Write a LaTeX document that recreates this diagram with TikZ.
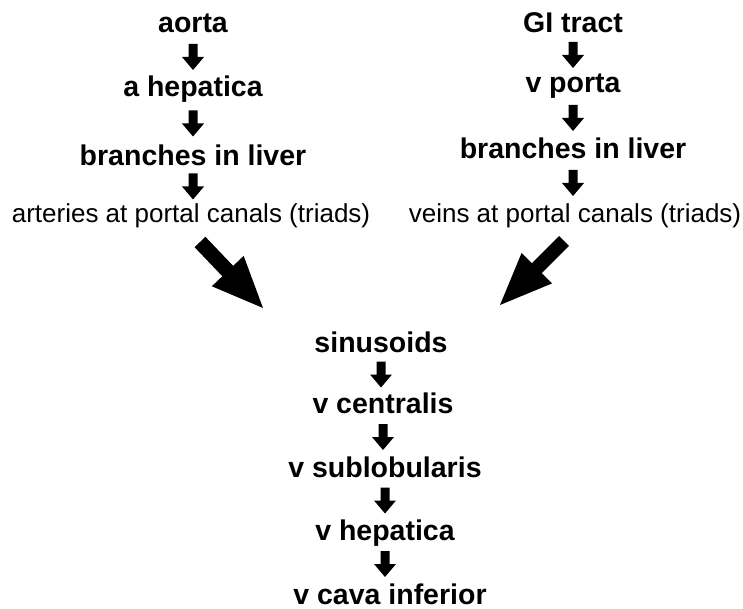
\documentclass[tikz,border=0pt]{standalone}
\usepackage{fontspec}
\setmainfont{Liberation Sans}
\usetikzlibrary{calc}
\tikzset{
  lbl/.style={anchor=base, inner sep=0pt, font=\bfseries\fontsize{28.5}{30}\selectfont},
  sml/.style={anchor=base, inner sep=0pt, font=\fontsize{26}{28}\selectfont}
}
% small downward block arrow between two nodes (by baselines), fixed length 26
\newcommand\downarr[2]{\fill let \p1=(#1.base), \p2=(#2.base), \n1={(\y1+\y2)/2+8} in
  (\x1-4.5pt,\n1+13pt) -- (\x1+4.5pt,\n1+13pt) -- (\x1+4.5pt,\n1) --
  (\x1+11pt,\n1) -- (\x1,\n1-13pt) -- (\x1-11pt,\n1) --
  (\x1-4.5pt,\n1) -- cycle;}
% fat arrow from #1 to #2: half shaft #3, half head #4, head length #5
\newcommand\fatarr[5]{\fill let \p1=($(#2)-(#1)$), \n1={atan2(\y1,\x1)}, \n2={veclen(\x1,\y1)} in
  [shift={(#1)}, rotate=\n1]
  (0pt,-#3) -- (\n2-#5,-#3) -- (\n2-#5,-#4) -- (\n2,0pt) --
  (\n2-#5,#4) -- (\n2-#5,#3) -- (0pt,#3) -- cycle;}
\begin{document}
\begin{tikzpicture}[x=1pt,y=1pt]
\useasboundingbox (0,0) rectangle (743,-609);
% left column
\node[lbl] (aorta) at (193,-33) {aorta};
\node[lbl] (ahep)  at (193,-97) {a hepatica};
\node[lbl] (bl)    at (193,-166) {branches in liver};
\node[sml] (art)   at (191,-223) {arteries at portal canals (triads)};
% right column
\node[lbl] (gi)    at (573,-33) {GI tract};
\node[lbl] (vp)    at (573,-93) {v porta};
\node[lbl] (br)    at (573,-159) {branches in liver};
\node[sml] (vein)  at (575,-223) {veins at portal canals (triads)};
% bottom column
\node[lbl] (sin)   at (381,-352) {sinusoids};
\node[lbl] (vc)    at (383,-413) {v centralis};
\node[lbl] (vs)    at (385,-477) {v sublobularis};
\node[lbl] (vh)    at (385,-540) {v hepatica};
\node[lbl] (vci)   at (390,-604) {v cava inferior};
% small arrows
\downarr{aorta}{ahep}
\downarr{ahep}{bl}
\downarr{bl}{art}
\downarr{gi}{vp}
\downarr{vp}{br}
\downarr{br}{vein}
\downarr{sin}{vc}
\downarr{vc}{vs}
\downarr{vs}{vh}
\downarr{vh}{vci}
% big arrows
\coordinate (lt) at (200,-242);
\coordinate (lh) at (263,-308);
\coordinate (rt) at (564,-241);
\coordinate (rh) at (500,-305);
\fatarr{lt}{lh}{7.5pt}{22pt}{51pt}
\fatarr{rt}{rh}{7pt}{21.5pt}{52pt}
\end{tikzpicture}
\end{document}
